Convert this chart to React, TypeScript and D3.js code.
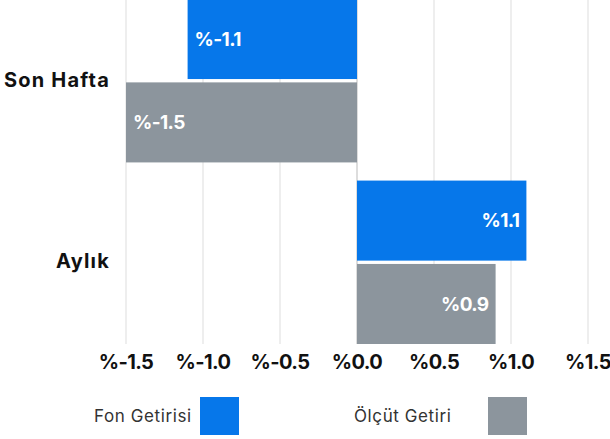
import React from 'react';
import * as d3 from 'd3';

// Horizontal grouped bars: fund return vs benchmark, weekly and monthly.

const categories = ['Son Hafta', 'Aylık'];
const seriesKeys = ['fon', 'olcut'];
const seriesNames = ['Fon Getirisi', 'Ölçüt Getiri'];
const seriesColors = ['#0677EA', '#8C959D'];
const fonValues = [-1.1, 1.1];
const olcutValues = [-1.5, 0.9];
const xTicks = [-1.5, -1.0, -0.5, 0.0, 0.5, 1.0, 1.5];

const W = 610;
const H = 439;
const FONT = 'Inter, "Open Sans", sans-serif';

export default function App() {
  const x = d3.scaleLinear().domain([-1.5, 1.5]).range([126, 588]);
  const y = d3.scaleBand().domain(categories).range([-1, 344]).paddingInner(0.1).paddingOuter(0);
  const ySub = d3.scaleBand().domain(seriesKeys).range([0, y.bandwidth()]).paddingInner(0.04);

  const rows = categories.map((c, i) => ({
    cat: c,
    vals: [fonValues[i], olcutValues[i]],
  }));

  const fmt = (v: number) => `%${v.toFixed(1)}`;

  // legend: text start and swatch x per item
  const legendText = [94, 354];
  const legendSwatch = [200, 488];

  return (
    <svg
      width={W}
      height={H}
      style={{ position: 'absolute', left: 0, top: 0, fontFamily: FONT }}
    >
      <rect width={W} height={H} fill="#fff" />
      {xTicks.map((t) => (
        <line
          key={t}
          x1={x(t)}
          x2={x(t)}
          y1={0}
          y2={344}
          stroke={t === 0 ? '#bbb' : '#ddd'}
          strokeWidth={1}
        />
      ))}
      {rows.map((r) => (
        <g key={r.cat} transform={`translate(0,${y(r.cat)})`}>
          {r.vals.map((v, j) => {
            const k = seriesKeys[j];
            const x0 = x(Math.min(0, v));
            const x1 = x(Math.max(0, v));
            const by = ySub(k) ?? 0;
            const bh = ySub.bandwidth();
            return (
              <g key={k}>
                <rect x={x0} y={by} width={x1 - x0} height={bh} fill={seriesColors[j]} />
                <text
                  x={v < 0 ? x0 + 7 : x1 - 7}
                  y={by + bh / 2}
                  dy="0.35em"
                  textAnchor={v < 0 ? 'start' : 'end'}
                  fill="#fff"
                  fontSize={19}
                  fontWeight={700}
                  letterSpacing={-0.6}
                >
                  {fmt(v)}
                </text>
              </g>
            );
          })}
          <text
            x={110}
            y={y.bandwidth() / 2 - 1}
            dy="0.35em"
            textAnchor="end"
            fill="#111"
            fontSize={20}
            fontWeight={700}
            letterSpacing={1.2}
          >
            {r.cat}
          </text>
        </g>
      ))}
      {xTicks.map((t) => (
        <text
          key={t}
          x={x(t)}
          y={362}
          dy="0.35em"
          textAnchor="middle"
          fill="#111"
          fontSize={20}
          fontWeight={700}
          letterSpacing={-0.6}
        >
          {fmt(t)}
        </text>
      ))}
      {seriesNames.map((n, i) => (
        <g key={n}>
          <text
            x={legendText[i]}
            y={416}
            dy="0.35em"
            fill="#333"
            fontSize={17}
            letterSpacing={0.6}
          >
            {n}
          </text>
          <rect x={legendSwatch[i]} y={397} width={39} height={38} fill={seriesColors[i]} />
        </g>
      ))}
    </svg>
  );
}
